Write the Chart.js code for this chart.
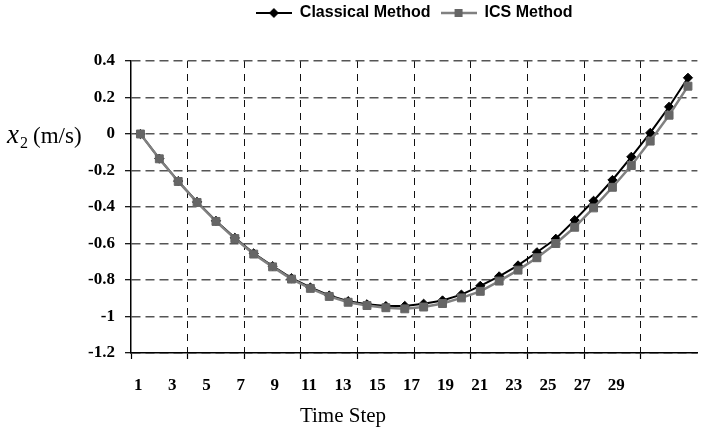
<!DOCTYPE html>
<html>
<head>
<meta charset="utf-8">
<script src="https://cdn.jsdelivr.net/npm/chart.js@4/dist/chart.umd.min.js"></script>
<style>
  html, body { margin: 0; padding: 0; background: #fff; }
  #wrap { width: 704px; height: 433px; }
</style>
</head>
<body>
<div id="wrap"><canvas id="c" width="704" height="433"></canvas></div>
<script>
// values
const categories = ['1', '2', '3', '4', '5', '6', '7', '8', '9', '10',
    '11', '12', '13', '14', '15', '16', '17', '18', '19', '20',
    '21', '22', '23', '24', '25', '26', '27', '28', '29', '30'];
const classical = [0, -0.135, -0.258, -0.372, -0.476, -0.569, -0.654, -0.724, -0.79, -0.841,
    -0.885, -0.916, -0.933, -0.943, -0.942, -0.93, -0.912, -0.88, -0.832, -0.78,
    -0.72, -0.648, -0.574, -0.472, -0.366, -0.252, -0.125, 0.006, 0.149, 0.308];
const ics = [0, -0.136, -0.26, -0.375, -0.479, -0.573, -0.658, -0.728, -0.795, -0.846,
    -0.89, -0.922, -0.94, -0.952, -0.958, -0.948, -0.929, -0.898, -0.862, -0.806,
    -0.746, -0.678, -0.6, -0.511, -0.405, -0.292, -0.173, -0.039, 0.103, 0.262];
const yTicks = [-1.2, -1, -0.8, -0.6, -0.4, -0.2, 0, 0.2, 0.4];
const xLabelTicks = [1, 3, 5, 7, 9, 11, 13, 15, 17, 19, 21, 23, 25, 27, 29];

const SERIF = '"Liberation Serif", "Times New Roman", serif';
const SANS = '"Liberation Sans", Arial, sans-serif';

// little line + marker picture used as the legend symbol
function legendSwatch ( lineColor, lineWidth, marker, markerColor ) {
    const cv = document.createElement( 'canvas' );
    cv.width = 36; cv.height = 12;
    const g = cv.getContext( '2d' );
    g.strokeStyle = lineColor;
    g.lineWidth = lineWidth;
    g.beginPath(); g.moveTo( 0, 6 ); g.lineTo( 36, 6 ); g.stroke();
    g.fillStyle = markerColor;
    g.beginPath();
    if ( marker === 'diamond' ) {
        g.moveTo( 18, 1 ); g.lineTo( 23, 6 ); g.lineTo( 18, 11 ); g.lineTo( 13, 6 );
    } else {
        g.rect( 14, 2, 8, 8 );
    }
    g.closePath(); g.fill();
    return cv;
}
const swatches = [
    legendSwatch( '#000', 2, 'diamond', '#000' ),
    legendSwatch( '#808080', 2.5, 'square', '#666' )
];

// axis titles (subscript needs manual text runs)
const axisTitles = {
    id: 'axisTitles',
    afterDraw ( chart ) {
        const ctx = chart.ctx;
        const y0 = chart.scales.y.getPixelForValue( 0 );
        ctx.save();
        ctx.fillStyle = '#000';
        ctx.textBaseline = 'alphabetic';
        ctx.textAlign = 'left';
        ctx.font = 'italic 27px ' + SERIF;
        ctx.fillText( 'x', 7, y0 + 9 );
        const xw = ctx.measureText( 'x' ).width;
        ctx.font = '16px ' + SERIF;
        ctx.fillText( '2', 7 + xw + 1, y0 + 14 );
        ctx.font = '23px ' + SERIF;
        ctx.fillText( '(m/s)', 33, y0 + 9 );

        ctx.textAlign = 'center';
        ctx.font = '21px ' + SERIF;
        ctx.fillText( 'Time Step', 343, 422 );
        ctx.restore();
    }
};

const every3 = ( ctx, color ) => ( ctx.index > 0 && ctx.index % 3 === 0 ) ? color : 'rgba(0,0,0,0)';

new Chart( document.getElementById( 'c' ), {
    type: 'line',
    data: {
        labels: categories,
        datasets: [ {
            label: 'Classical Method',
            data: classical,
            borderColor: '#000',
            backgroundColor: '#000',
            borderWidth: 2,
            pointStyle: 'rectRot',
            pointRadius: 4.6,
            pointBorderWidth: 1,
            pointBackgroundColor: '#000',
            pointBorderColor: '#000',
            tension: 0,
            order: 1
        }, {
            label: 'ICS Method',
            data: ics,
            borderColor: '#808080',
            backgroundColor: '#666',
            borderWidth: 2.5,
            pointStyle: 'rect',
            pointRadius: 5.6,
            pointBorderWidth: 1,
            pointBackgroundColor: '#666',
            pointBorderColor: '#666',
            tension: 0,
            order: 0
        } ]
    },
    options: {
        responsive: false,
        animation: false,
        events: [],
        layout: { padding: { top: -5, left: 81, right: 0, bottom: 38 } },
        scales: {
            x: {
                type: 'category',
                offset: true,
                weight: 0,
                afterFit ( s ) { s.height = 6; },
                ticks: { display: false, autoSkip: false },
                grid: {
                    offset: true,
                    color: ( ctx ) => every3( ctx, '#111' ),
                    lineWidth: 1,
                    tickLength: 6,
                    tickColor: ( ctx ) => ( ctx.index % 3 === 0 ) ? '#000' : 'rgba(0,0,0,0)',
                    tickWidth: 1.2,
                    tickBorderDash: []
                },
                border: { display: true, color: '#000', width: 1.5, dash: [ 7, 6 ] }
            },
            xl: {
                type: 'linear',
                position: 'bottom',
                weight: 1,
                min: 0.5774,
                max: 33.75,
                afterFit ( s ) { s.height = 36; },
                afterBuildTicks ( s ) { s.ticks = xLabelTicks.map( v => ( { value: v } ) ); },
                ticks: {
                    padding: 16,
                    color: '#000',
                    font: { family: SERIF, size: 17, weight: 'bold' },
                    maxRotation: 0,
                    autoSkip: false,
                    callback: ( v ) => String( v )
                },
                grid: { display: false, drawTicks: false, tickLength: 0 },
                border: { display: false }
            },
            y: {
                type: 'linear',
                min: -1.2,
                max: 0.4,
                afterFit ( s ) { s.width = 50; },
                afterBuildTicks ( s ) { s.ticks = yTicks.map( v => ( { value: v } ) ); },
                ticks: {
                    padding: 10,
                    color: '#000',
                    font: { family: SERIF, size: 17, weight: 'bold' },
                    callback: ( v ) => String( v )
                },
                grid: {
                    color: '#555',
                    lineWidth: 1.4,
                    tickLength: 6,
                    tickColor: '#000',
                    tickWidth: 1.2,
                    tickBorderDash: []
                },
                border: { display: true, color: '#000', width: 1.5, dash: [ 9, 5 ] }
            }
        },
        plugins: {
            legend: {
                position: 'top',
                fullSize: false,
                labels: {
                    usePointStyle: true,
                    pointStyleWidth: 36,
                    padding: 10,
                    color: '#000',
                    font: { family: SANS, size: 16, weight: 'bold' },
                    sort: ( a, b ) => a.datasetIndex - b.datasetIndex,
                    generateLabels ( chart ) {
                        const items = Chart.defaults.plugins.legend.labels.generateLabels( chart );
                        items.forEach( it => { it.pointStyle = swatches[ it.datasetIndex ]; } );
                        return items;
                    }
                }
            },
            // empty title used only as a spacer between legend and plot
            title: { display: true, text: '', weight: 500, padding: 0, font: { size: 25, lineHeight: 1.2 } },
            tooltip: { enabled: false }
        }
    },
    plugins: [ axisTitles ]
} );
</script>
</body>
</html>
